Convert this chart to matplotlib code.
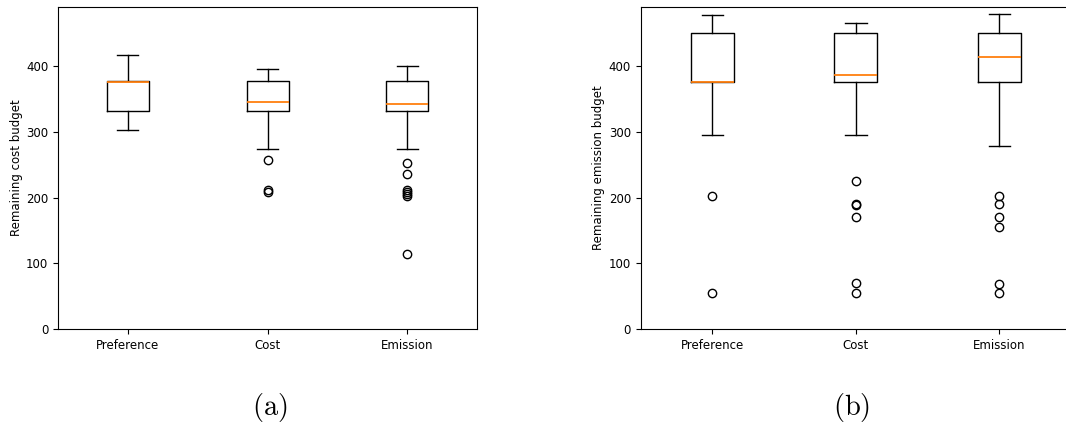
import matplotlib
matplotlib.use("Agg")
import matplotlib.pyplot as plt

categories = ["Preference", "Cost", "Emission"]

# Panel (a): remaining cost budget
cost_whislo = [303, 274, 274]
cost_q1 = [331, 331, 331]
cost_med = [376, 346, 341.5]
cost_q3 = [376.5, 376.5, 376.5]
cost_whishi = [416, 396, 399.5]
cost_fliers = [
    [],
    [257, 212, 208],
    [252, 236, 211, 208, 205, 203, 114],
]

# Panel (b): remaining emission budget
em_whislo = [295, 295, 279]
em_q1 = [375, 375, 375]
em_med = [375.5, 387, 414]
em_q3 = [450, 450, 450]
em_whishi = [477, 465, 479.5]
em_fliers = [
    [202, 55],
    [226, 190, 189, 171, 70, 55],
    [202, 190, 170, 156, 69, 55],
]


def make_stats(lo, q1, med, q3, hi, fl):
    return [dict(whislo=lo[i], q1=q1[i], med=med[i], q3=q3[i], whishi=hi[i],
                 fliers=fl[i], label=categories[i]) for i in range(len(categories))]


plt.rcParams['mathtext.fontset'] = 'cm'
fig = plt.figure(figsize=(10.66, 4.23), dpi=100)
bottom = 93.7 / 423
height = 322.6 / 423
ax1 = fig.add_axes([58 / 1066, bottom, 419.3 / 1066, height])
ax2 = fig.add_axes([640.7 / 1066, bottom, 430.5 / 1066, height])

fs = 8.5
for ax, stats, ylabel, pad in [
    (ax1, make_stats(cost_whislo, cost_q1, cost_med, cost_q3, cost_whishi, cost_fliers),
     "Remaining cost budget", 2.0),
    (ax2, make_stats(em_whislo, em_q1, em_med, em_q3, em_whishi, em_fliers),
     "Remaining emission budget", 3.0),
]:
    ax.bxp(stats, widths=0.3, showfliers=True,
           medianprops=dict(color='C1', linewidth=1.3))
    ax.set_ylim(0, 490)
    ax.set_yticks([0, 100, 200, 300, 400])
    ax.set_ylabel(ylabel, fontsize=fs, labelpad=pad)
    ax.tick_params(labelsize=fs)

fig.text(269.7 / 1066, 1 - 407 / 423, r'$\mathrm{(a)}$', ha='center', va='center', fontsize=20.5)
fig.text(852 / 1066, 1 - 407 / 423, r'$\mathrm{(b)}$', ha='center', va='center', fontsize=20.5)

fig.savefig("out.png", dpi=100)
